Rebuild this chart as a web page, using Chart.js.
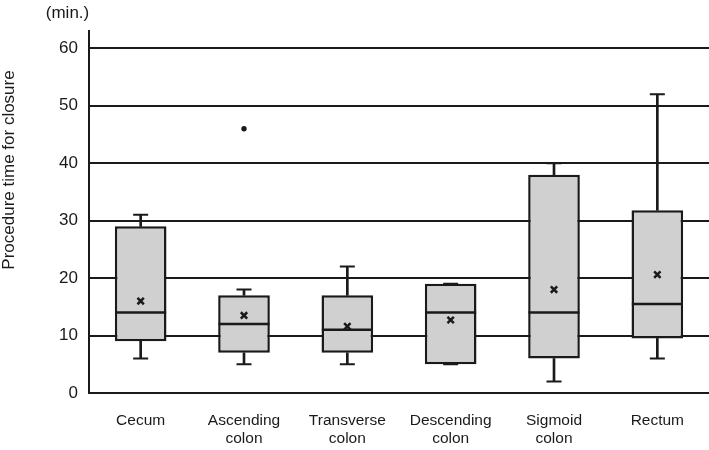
<!DOCTYPE html>
<html>
<head>
<meta charset="utf-8">
<script src="https://cdn.jsdelivr.net/npm/chart.js@4/dist/chart.umd.min.js"></script>
<style>
  html, body { margin: 0; padding: 0; background: #fff; }
  #c { display: block; }
</style>
</head>
<body>
<canvas id="c" width="709" height="450"></canvas>
<script>
// ---- data ----
const categories = ['Cecum', ['Ascending', 'colon'], ['Transverse', 'colon'], ['Descending', 'colon'], ['Sigmoid', 'colon'], 'Rectum'];
const mins     = [6, 5, 5, 5, 2, 6];
const q1s      = [9, 7, 7, 5, 6, 9.5];
const medians  = [14, 12, 11, 14, 14, 15.5];
const q3s      = [29, 17, 17, 19, 38, 31.8];
const maxs     = [31, 18, 22, 19, 40, 52];
const means    = [16, 13.5, 11.6, 12.7, 18, 20.6];
const outliers = [null, 46, null, null, null, null];
const yTicks   = [0, 10, 20, 30, 40, 50, 60];
const yTitle   = 'Procedure time for closure';
const yUnit    = '(min.)';

const FONT = '"Liberation Sans", Arial, sans-serif';
const INK = '#1a1a1a';
const BOX = '#d0d0d0';

const boxes = q1s.map((v, i) => [v, q3s[i]]);
const upperWhisker = q3s.map((v, i) => [v, maxs[i]]);
const lowerWhisker = q1s.map((v, i) => [mins[i], v]);

const textPlugin = {
  id: 'extraText',
  afterDraw(chart) {
    const ctx = chart.ctx;
    ctx.save();
    ctx.fillStyle = INK;
    ctx.font = '17px ' + FONT;
    ctx.textAlign = 'center';
    ctx.textBaseline = 'middle';
    ctx.fillText(yUnit, 67.5, 13);
    ctx.translate(9, 170);
    ctx.rotate(-Math.PI / 2);
    ctx.fillText(yTitle, 0, 0);
    ctx.restore();
  }
};

new Chart(document.getElementById('c'), {
  type: 'bar',
  data: {
    labels: categories,
    datasets: [
      { type: 'bar', data: upperWhisker, backgroundColor: INK, borderWidth: 0, barThickness: 2, grouped: false, order: 6 },
      { type: 'bar', data: lowerWhisker, backgroundColor: INK, borderWidth: 0, barThickness: 2, grouped: false, order: 6 },
      { type: 'line', data: maxs, showLine: false, pointStyle: 'line', pointRadius: 7.5, borderColor: INK, pointBorderColor: INK, pointBorderWidth: 2, order: 5 },
      { type: 'line', data: mins, showLine: false, pointStyle: 'line', pointRadius: 7.5, borderColor: INK, pointBorderColor: INK, pointBorderWidth: 2, order: 5 },
      { type: 'bar', data: boxes, backgroundColor: BOX, borderColor: INK,
        borderWidth: 2.5, borderSkipped: false,
        barPercentage: 0.5, categoryPercentage: 1, grouped: false, order: 3 },
      { type: 'line', data: medians, showLine: false, pointStyle: 'line', pointRadius: 25.5, borderColor: INK, pointBorderColor: INK, pointBorderWidth: 2.5, order: 2 },
      { type: 'line', data: means, showLine: false, pointStyle: 'crossRot', pointRadius: 4.5, pointBorderColor: INK, borderColor: INK, pointBorderWidth: 2.5, order: 1 },
      { type: 'line', data: outliers, showLine: false, pointStyle: 'circle', pointRadius: 2.7, pointBackgroundColor: INK, pointBorderColor: INK, pointBorderWidth: 0, order: 1 }
    ]
  },
  options: {
    responsive: false,
    animation: false,
    events: [],
    layout: { autoPadding: false, padding: { top: 31, left: 0, right: 0, bottom: 0 } },
    plugins: { legend: { display: false }, tooltip: { enabled: false } },
    scales: {
      x: {
        grid: { display: false, drawTicks: false },
        border: { display: true, color: INK, width: 2 },
        ticks: { color: INK, font: { family: FONT, size: 15.5, lineHeight: 1.2 }, padding: 18, maxRotation: 0, autoSkip: false },
        afterFit(scale) { scale.height = 57; }
      },
      y: {
        min: 0, max: 63,
        grid: { color: INK, lineWidth: 2, drawTicks: false },
        border: { display: true, color: INK, width: 2 },
        ticks: { color: INK, font: { family: FONT, size: 17 }, padding: 11, stepSize: 10 },
        afterBuildTicks(scale) { scale.ticks = yTicks.map(v => ({ value: v })); },
        afterFit(scale) { scale.width = 89; }
      }
    }
  },
  plugins: [textPlugin]
});
</script>
</body>
</html>
